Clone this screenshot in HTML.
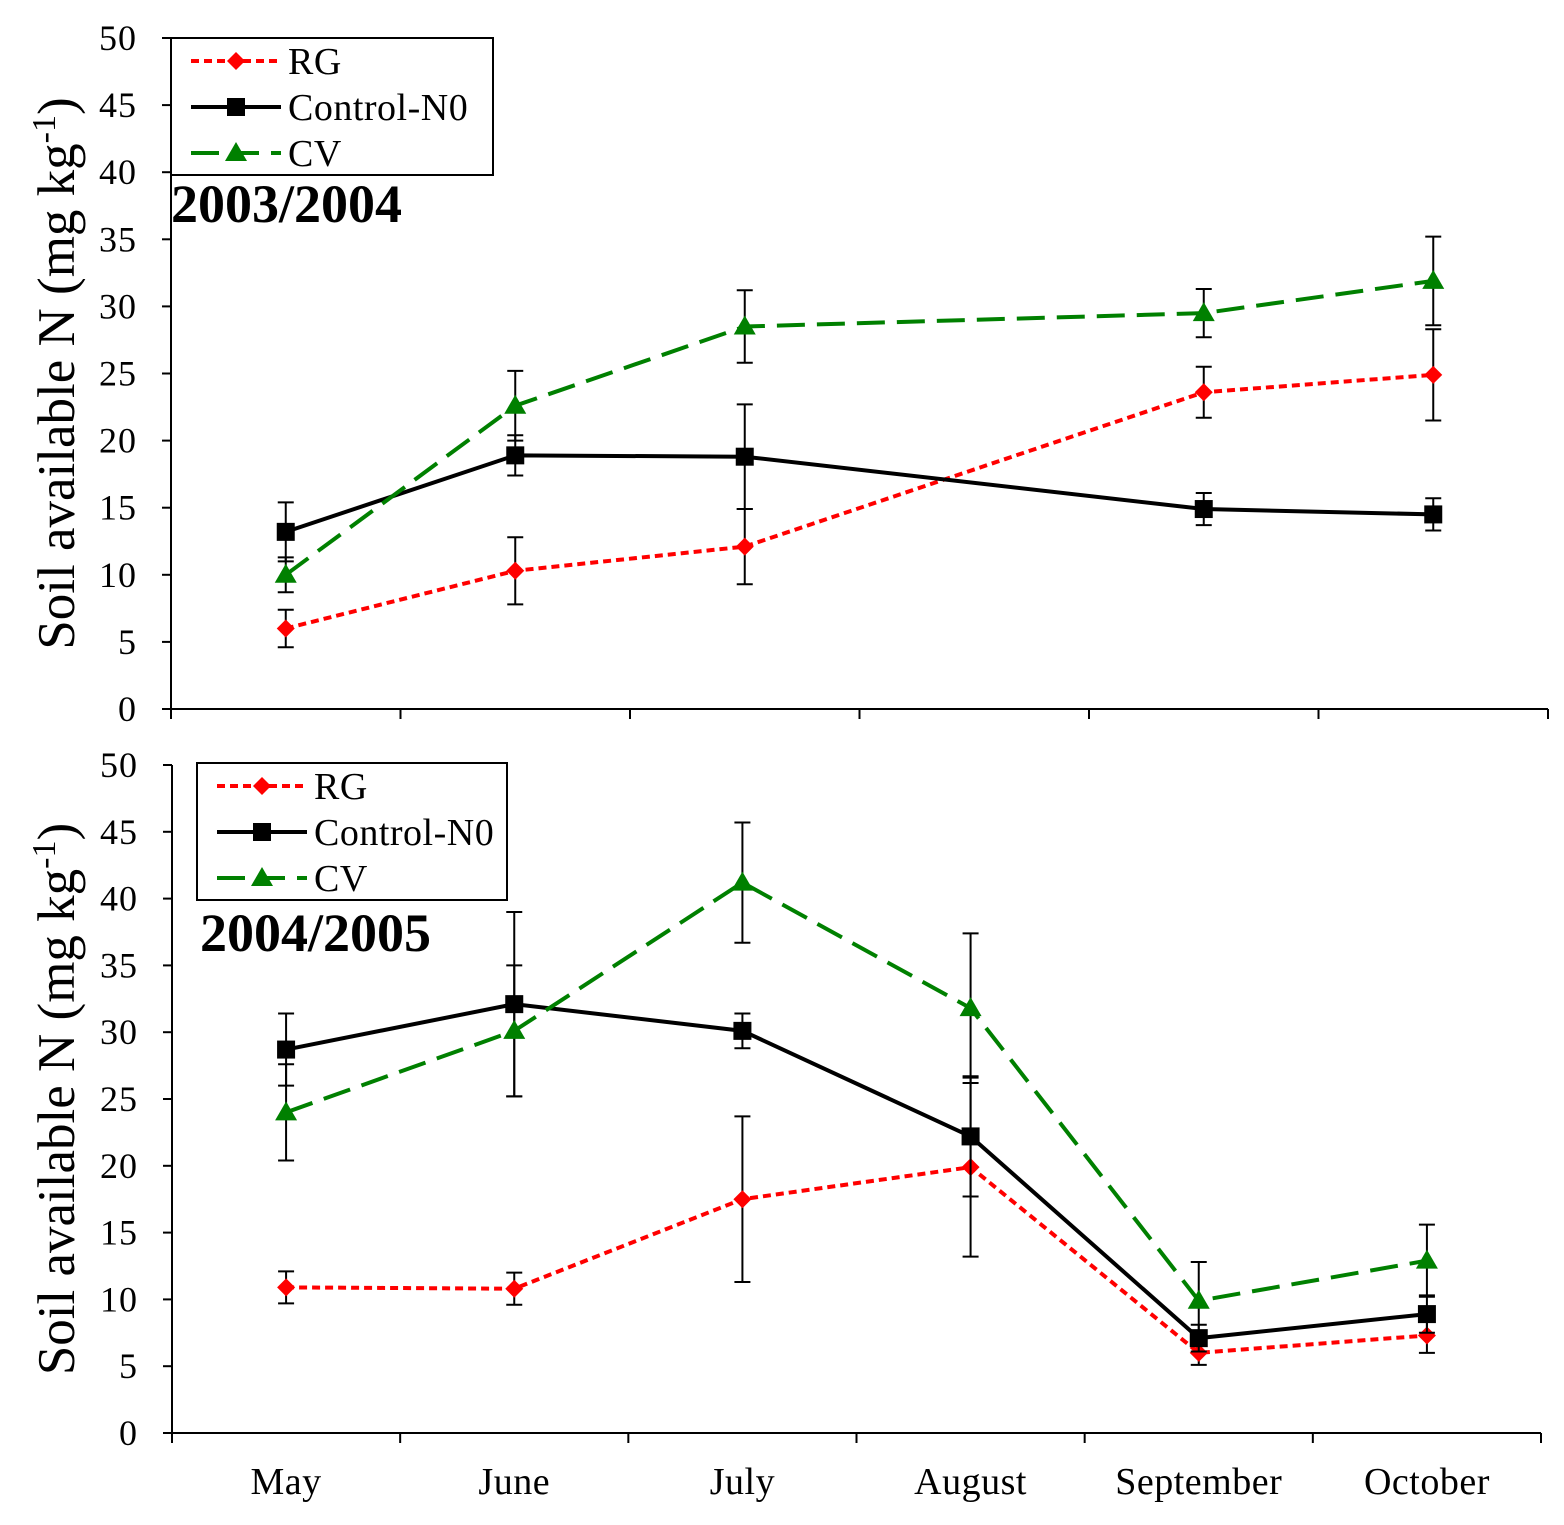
<!DOCTYPE html>
<html><head><meta charset="utf-8"><style>
html,body{margin:0;padding:0;background:#fff}
svg{display:block;font-family:"Liberation Serif",serif}
</style></head><body>
<svg id="chart" width="1564" height="1525" viewBox="0 0 1564 1525"></svg>
<script>
const months=["May","June","July","August","September","October"];
const yTicks=[0,5,10,15,20,25,30,35,40,45,50];
// 2003/2004
const rg1=[6.0,10.3,12.1,null,23.6,24.9];
const rg1Err=[1.4,2.5,2.8,null,1.9,3.4];
const ct1=[13.2,18.9,18.8,null,14.9,14.5];
const ct1Err=[2.2,1.5,3.9,null,1.2,1.2];
const cv1=[10.0,22.6,28.5,null,29.5,31.9];
const cv1Err=[1.3,2.6,2.7,null,1.8,3.3];
// 2004/2005
const rg2=[10.9,10.8,17.5,19.9,6.0,7.3];
const rg2Err=[1.2,1.2,6.2,6.7,0.9,1.3];
const ct2=[28.7,32.1,30.1,22.2,7.1,8.9];
const ct2Err=[2.7,6.9,1.3,4.5,1.0,1.4];
const cv2=[24.0,30.1,41.2,31.8,9.9,12.9];
const cv2Err=[3.6,4.9,4.5,5.6,2.9,2.7];

const NS="http://www.w3.org/2000/svg";
const svg=document.getElementById('chart');
function mk(tag,attrs,parent){const e=document.createElementNS(NS,tag);for(const k in attrs)e.setAttribute(k,attrs[k]);(parent||svg).appendChild(e);return e;}

function panel(p){
  const g=mk('g',{});
  
  
  const x0=p.x0,x1=p.x1,yb=p.yb,yt=p.yt;
  const step=(x1-x0)/months.length;
  const X=i=>x0+step*(i+0.5);
  const Y=v=>yb-(v/50)*(yb-yt);
  const ax=mk('g',{},g);
  
  
  mk('line',{x1:x0,y1:yt,x2:x0,y2:yb,stroke:'#000','stroke-width':2},ax);
  yTicks.forEach(t=>{
    mk('line',{x1:x0-9,y1:Y(t),x2:x0,y2:Y(t),stroke:'#000','stroke-width':2},ax);
    const tx=mk('text',{x:x0-34,y:Y(t)+12,'text-anchor':'end','font-size':36,'letter-spacing':1},ax);tx.textContent=t;
  });
  const xa=mk('g',{},g);
  
  
  mk('line',{x1:x0,y1:yb,x2:x1,y2:yb,stroke:'#000','stroke-width':2},xa);
  for(let i=0;i<=months.length;i++){const x=x0+step*i;mk('line',{x1:x,y1:yb,x2:x,y2:yb+10,stroke:'#000','stroke-width':2},xa);}
  if(p.labels){months.forEach((m,i)=>{const t=mk('text',{x:X(i),y:yb+61,'text-anchor':'middle','font-size':38,'letter-spacing':0.5},xa);t.textContent=m;});}
  const yl=mk('text',{x:0,y:0,'font-size':53,'text-anchor':'middle',transform:`translate(74,${(yt+yb)/2+0}) rotate(-90)`},g);
  
  
  yl.innerHTML='Soil available N (mg kg<tspan dy="-19" font-size="34">-1</tspan><tspan dy="19">)</tspan>';
  const yr=mk('text',{x:p.yearX,y:p.yearY,'font-size':54,'font-weight':'bold'},g);
  
  
  yr.textContent=p.year;
  p.series.forEach(s=>{
    const sg=mk('g',{},g);
    
    
    const pts=[];s.vals.forEach((v,i)=>{if(v!==null)pts.push([X(i),Y(v),i,v]);});
    mk('polyline',{points:pts.map(q=>q[0]+','+q[1]).join(' '),fill:'none',stroke:s.color,'stroke-width':s.w,'stroke-dasharray':s.dash},sg);
    pts.forEach(q=>{
      const e=s.err[q[2]];const a=Y(q[3]+e),b=Y(q[3]-e);
      const eb=mk('g',{},sg);
      
      
      mk('line',{x1:q[0],y1:a,x2:q[0],y2:b,stroke:'#000','stroke-width':2},eb);
      mk('line',{x1:q[0]-8,y1:a,x2:q[0]+8,y2:a,stroke:'#000','stroke-width':2},eb);
      mk('line',{x1:q[0]-8,y1:b,x2:q[0]+8,y2:b,stroke:'#000','stroke-width':2},eb);
    });
    pts.forEach(q=>{const m=marker(s.key,q[0],q[1],sg);});
  });
  const lg=mk('g',{},g);
  
  
  mk('rect',{x:p.lx,y:p.ly,width:p.lw,height:137,fill:'#fff',stroke:'#000','stroke-width':2},lg);
  p.series.forEach((s,k)=>{
    const yy=p.ly+23+k*46;
    const le=mk('g',{},lg);
    
    
    mk('line',{x1:p.lx+20,y1:yy,x2:p.lx+110,y2:yy,stroke:s.color,'stroke-width':s.w,'stroke-dasharray':s.dash},le);
    marker(s.key,p.lx+65,yy,le);
    const t=mk('text',{x:p.lx+117,y:yy+13,'font-size':38,'letter-spacing':0.5},le);t.textContent=s.label;
  });
}
function marker(key,x,y,parent){
  if(key==='rg')return mk('polygon',{points:`${x},${y-9} ${x+9},${y} ${x},${y+9} ${x-9},${y}`,fill:'#ff0000'},parent);
  if(key==='control')return mk('rect',{x:x-9,y:y-9,width:18,height:18,fill:'#000'},parent);
  return mk('polygon',{points:`${x},${y-11} ${x+11},${y+8} ${x-11},${y+8}`,fill:'#008000'},parent);
}
panel({name:'panel-2003-2004',x0:171,x1:1548,yb:709,yt:38,labels:false,year:'2003/2004',yearX:171,yearY:222,lx:171,ly:38,lw:322,
 series:[{key:'rg',label:'RG',vals:rg1,err:rg1Err,color:'#ff0000',w:4,dash:'8,5'},
 {key:'control',label:'Control-N0',vals:ct1,err:ct1Err,color:'#000',w:4,dash:''},
 {key:'cv',label:'CV',vals:cv1,err:cv1Err,color:'#008000',w:4,dash:'28,12'}]});
panel({name:'panel-2004-2005',x0:172,x1:1541,yb:1433,yt:765,labels:true,year:'2004/2005',yearX:200,yearY:951,lx:197,ly:763,lw:310,
 series:[{key:'rg',label:'RG',vals:rg2,err:rg2Err,color:'#ff0000',w:4,dash:'8,5'},
 {key:'control',label:'Control-N0',vals:ct2,err:ct2Err,color:'#000',w:4,dash:''},
 {key:'cv',label:'CV',vals:cv2,err:cv2Err,color:'#008000',w:4,dash:'28,12'}]});
</script>
</body></html>
